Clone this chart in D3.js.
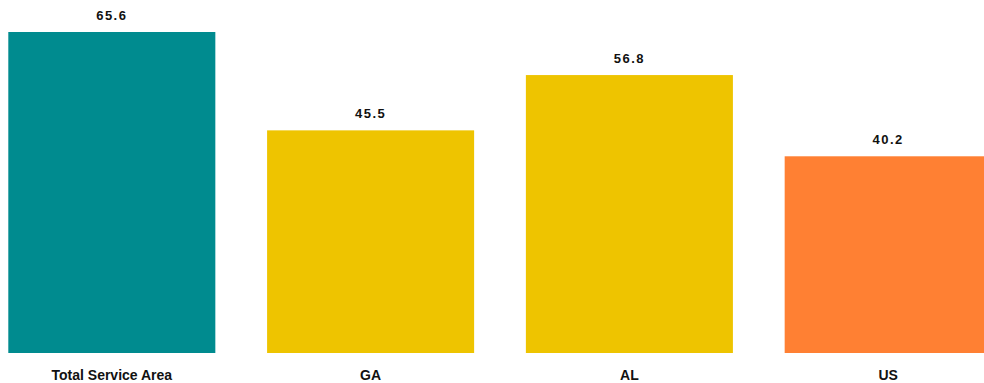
<!DOCTYPE html>
<html>
<head>
<meta charset="utf-8">
<style>
  body { margin: 0; background: #fff; }
  svg { display: block; }
  text { font-family: "Liberation Sans", Arial, sans-serif; font-weight: bold; fill: #111; }
</style>
</head>
<body>
<svg width="984" height="383"></svg>
<script src="https://d3js.org/d3.v7.min.js"></script>
<script>
const categories = ["Total Service Area", "GA", "AL", "US"];
const values = [65.6, 45.5, 56.8, 40.2];
const colors = ["#008B8F", "#EEC400", "#EEC400", "#FF8033"];

const svg = d3.select("svg");

// bars run off the right edge a little, like the original
const x = d3.scaleBand()
    .domain(categories)
    .range([8.3, 991.7])
    .paddingInner(0.2)
    .paddingOuter(0);

const y = d3.scaleLinear()
    .domain([0, 65.6])
    .range([353, 32]);

const data = categories.map((c, i) => ({ cat: c, val: values[i], color: colors[i] }));

svg.selectAll("rect.bar")
    .data(data)
    .join("rect")
    .attr("class", "bar")
    .attr("x", d => x(d.cat))
    .attr("y", d => y(d.val))
    .attr("width", x.bandwidth())
    .attr("height", d => y(0) - y(d.val))
    .attr("fill", d => d.color);

svg.selectAll("text.val")
    .data(data)
    .join("text")
    .attr("class", "val")
    .attr("x", d => x(d.cat) + x.bandwidth() / 2)
    .attr("y", d => y(d.val) - 12)
    .attr("text-anchor", "middle")
    .style("font-size", "13px")
    .style("letter-spacing", "1.5px")
    .text(d => d.val.toFixed(1));

svg.selectAll("text.cat")
    .data(data)
    .join("text")
    .attr("class", "cat")
    .attr("x", d => x(d.cat) + x.bandwidth() / 2)
    .attr("y", 380)
    .attr("text-anchor", "middle")
    .style("font-size", "14px")
    .text(d => d.cat);
</script>
</body>
</html>
